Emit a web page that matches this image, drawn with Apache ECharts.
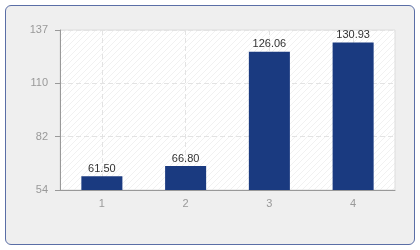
<!DOCTYPE html>
<html>
<head>
<meta charset="utf-8">
<script src="https://cdn.jsdelivr.net/npm/echarts@6/dist/echarts.min.js"></script>
<style>
  html, body { margin: 0; padding: 0; background: #ffffff; }
  #frame {
    position: absolute; left: 5px; top: 5px; width: 408px; height: 238px;
    border: 1px solid #5a6ea6; border-radius: 6px; background: #efefef;
  }
  #chart { position: absolute; left: 0; top: 0; width: 420px; height: 250px; }
</style>
</head>
<body>
<div id="frame"></div>
<div id="chart"></div>
<script>
const categories = ["1", "2", "3", "4"];
const values = [61.50, 66.80, 126.06, 130.93];
// y ticks sit at even spacing between min and max, labels are rounded
const yMin = 54.4;
const yMax = 137.4;
const yTicks = [54.4, 82.07, 109.73, 137.4];

// faint diagonal hatch for the plot background
function hatch() {
  const c = document.createElement("canvas");
  c.width = 6; c.height = 6;
  const ctx = c.getContext("2d");
  ctx.fillStyle = "#ffffff";
  ctx.fillRect(0, 0, 6, 6);
  ctx.strokeStyle = "#f1f1f1";
  ctx.lineWidth = 1;
  ctx.beginPath();
  ctx.moveTo(0, 6); ctx.lineTo(6, 0);
  ctx.moveTo(-3, 3); ctx.lineTo(3, -3);
  ctx.moveTo(3, 9); ctx.lineTo(9, 3);
  ctx.stroke();
  return c;
}

const myChart = echarts.init(document.getElementById("chart"));
const option = {
  animation: false,
  grid: {
    left: 60, right: 25, top: 30, bottom: 60,
    show: true,
    backgroundColor: { image: hatch(), repeat: "repeat" },
    borderColor: "#dddddd",
    borderWidth: 1
  },
  xAxis: {
    type: "category",
    data: categories,
    axisLine: { lineStyle: { color: "#999999" } },
    axisTick: { alignWithLabel: true, length: 5, lineStyle: { color: "#999999" } },
    axisLabel: { color: "#999999", fontFamily: "Liberation Sans", fontSize: 11, margin: 8 },
    splitLine: { show: true, alignWithLabel: true, lineStyle: { color: "#e3e3e3", type: [5, 3] } }
  },
  yAxis: {
    type: "value",
    min: yMin,
    max: yMax,
    axisLine: { show: true, lineStyle: { color: "#999999" } },
    axisTick: { show: true, length: 5, customValues: yTicks, lineStyle: { color: "#999999" } },
    axisLabel: {
      color: "#999999", fontFamily: "Liberation Sans", fontSize: 11, margin: 12,
      customValues: yTicks,
      formatter: (v) => String(Math.round(v))
    },
    splitLine: { show: true, lineStyle: { color: "#e3e3e3", type: [5, 3] } }
  },
  series: [
    {
      type: "bar",
      data: values,
      barWidth: "49%",
      itemStyle: { color: "#1a3a80", borderColor: "#142f6a", borderWidth: 0 },
      label: {
        show: true,
        position: "top",
        distance: 2,
        color: "#333333",
        fontFamily: "Liberation Sans",
        fontSize: 11,
        formatter: (p) => p.value.toFixed(2)
      }
    }
  ]
};
myChart.setOption(option);
window.addEventListener("resize", myChart.resize);
</script>
</body>
</html>
